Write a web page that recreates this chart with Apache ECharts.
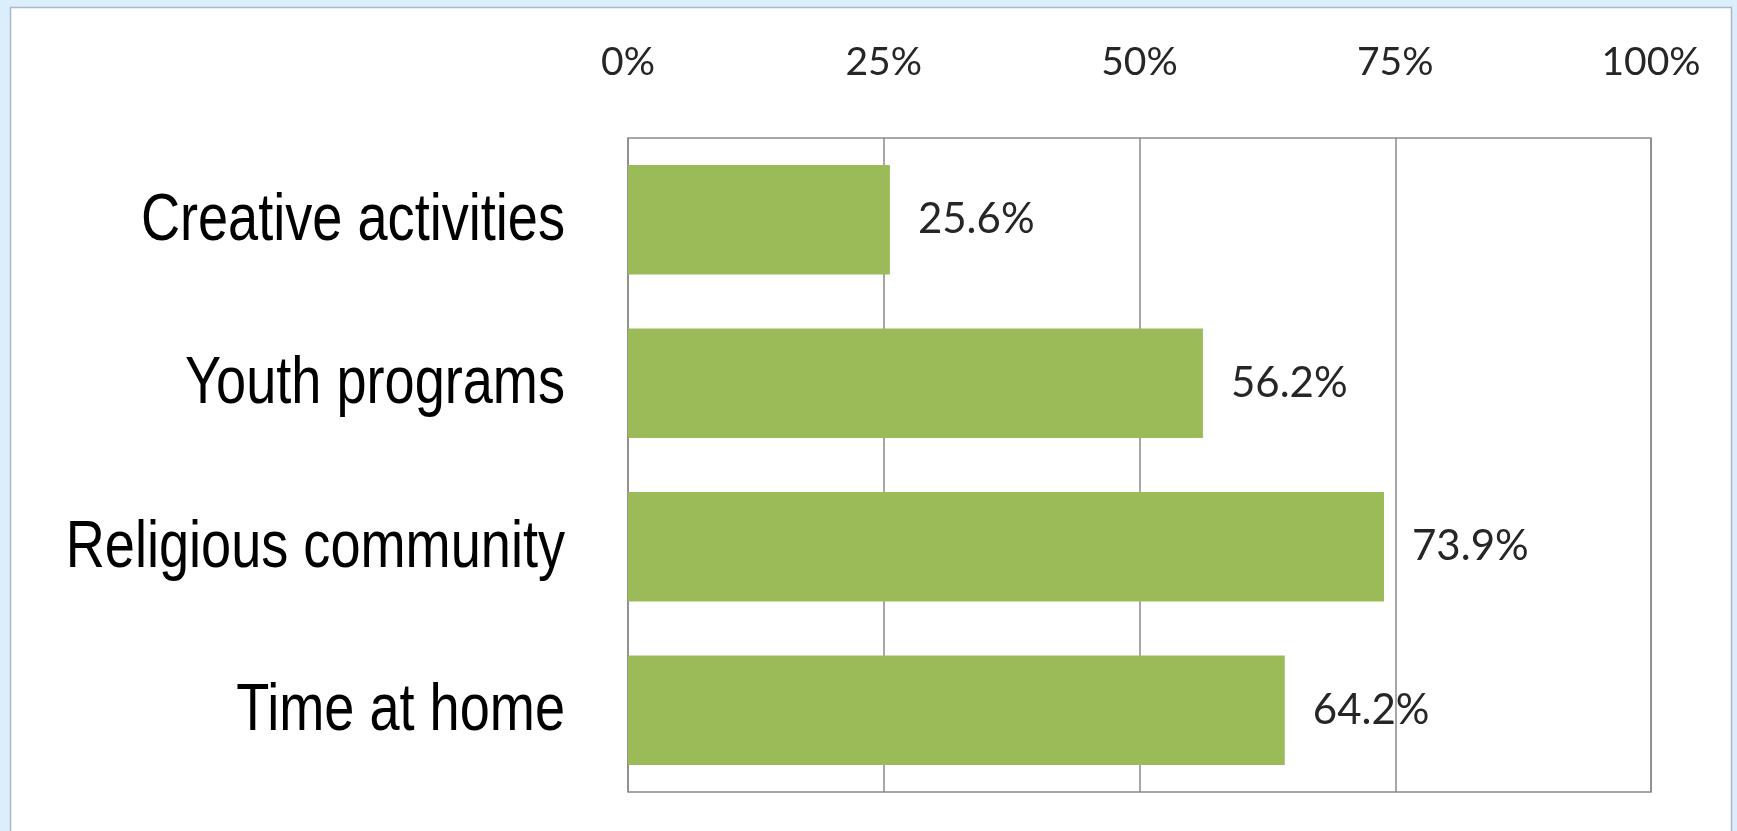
<!DOCTYPE html>
<html>
<head>
<meta charset="utf-8">
<title>Activities</title>
<script src="https://cdn.jsdelivr.net/npm/echarts@6/dist/echarts.min.js"></script>
<style>
  html, body { margin: 0; padding: 0; background: #dcedfc; }
  #chart { width: 1737px; height: 831px; }
</style>
</head>
<body>
<div id="chart"></div>
<script>
// Share of respondents by activity
const categories = ['Creative activities', 'Youth programs', 'Religious community', 'Time at home'];
const values = [25.6, 56.2, 73.9, 64.2];
const tickLabels = ['0%', '25%', '50%', '75%', '100%'];

const GRID_LEFT = 628;
const CAT_FONT = '"Liberation Sans", Arial, sans-serif';

const chart = echarts.init(document.getElementById('chart'));

const panel = {
  type: 'rect',
  id: 'panel',
  z: -10,
  shape: { x: 10.5, y: 7.5, width: 1721, height: 840 },
  style: { fill: '#ffffff', stroke: '#a8b9cc', lineWidth: 1.5 }
};

chart.setOption({
  backgroundColor: '#dcedfc',
  animation: false,
  graphic: [panel],
  grid: {
    left: GRID_LEFT, right: 86, top: 138, bottom: 39,
    outerBoundsMode: 'none',
    containLabel: false,
    show: true,
    borderColor: '#8a8a8a',
    borderWidth: 1.5,
    backgroundColor: 'transparent'
  },
  xAxis: {
    type: 'value',
    position: 'top',
    min: 0, max: 100, interval: 25,
    axisLine: { show: false },
    axisTick: { show: false },
    splitLine: { show: true, lineStyle: { color: '#8a8a8a', width: 1.5 } },
    axisLabel: {
      margin: 56,
      fontFamily: 'Lato, Carlito, sans-serif',
      fontSize: 39,
      color: '#262626',
      formatter: (v) => tickLabels[Math.round(v / 25)]
    }
  },
  yAxis: {
    type: 'category',
    data: categories,
    inverse: true,
    axisLine: { show: false },
    axisTick: { show: false },
    splitLine: { show: false },
    axisLabel: { show: false }
  },
  series: [{
    type: 'bar',
    data: values,
    barCategoryGap: '33%',
    itemStyle: { color: '#9bbb59' },
    label: {
      show: true,
      position: 'right',
      distance: 28,
      fontFamily: 'Lato, Carlito, sans-serif',
      fontSize: 42,
      color: '#262626',
      formatter: (p) => p.value.toFixed(1) + '%'
    }
  }]
});

// Category names in a narrow face: right-aligned text squeezed horizontally,
// placed at each category's position on the y axis.
const catLabels = categories.map((name, i) => ({
  type: 'text',
  id: 'cat' + i,
  x: GRID_LEFT - 63,
  y: chart.convertToPixel({ yAxisIndex: 0 }, name) + 2,
  scaleX: 0.82,
  style: {
    text: name,
    fill: '#000000',
    font: '66px ' + CAT_FONT,
    textAlign: 'right',
    textVerticalAlign: 'middle'
  }
}));

chart.setOption({ graphic: [panel].concat(catLabels) });
</script>
</body>
</html>
